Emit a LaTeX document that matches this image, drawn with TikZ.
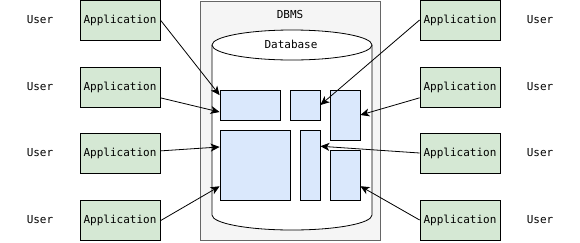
\documentclass[tikz,border=0pt]{standalone}
\usepackage{fontspec}
\setmonofont{DejaVu Sans Mono}
\usetikzlibrary{arrows.meta}
\begin{document}
\begin{tikzpicture}[x=1pt,y=-1pt,
  every node/.style={font=\ttfamily\fontsize{11pt}{13pt}\selectfont, inner sep=0pt},
  app/.style={draw=black, fill={rgb,255:red,213;green,232;blue,212}, line width=0.8pt, minimum width=80pt, minimum height=40pt},
  blk/.style={draw=black, fill={rgb,255:red,218;green,232;blue,252}, line width=0.8pt},
  usr/.style={text=black},
  conn/.style={draw=black, line width=0.8pt, -{Stealth[length=9pt,width=8pt,inset=2.5pt]}}]
\useasboundingbox (0,0) rectangle (580,242);
% DBMS container
\node[draw={rgb,255:red,102;green,102;blue,102}, fill={rgb,255:red,245;green,245;blue,245}, line width=0.8pt, minimum width=180pt, minimum height=239pt] (dbms) at (290,120.5) {};
\node (dbmslbl) at (290,14) {DBMS};
% cylinder
\draw[fill=white, line width=0.8pt] (212,45) -- (212,215) arc[start angle=180, end angle=360, x radius=80pt, y radius=15pt] -- (372,45);
\draw[fill=white, line width=0.8pt] (292,45) ellipse [x radius=80pt, y radius=15pt];
\node (dblbl) at (291,44) {Database};
% blocks
\node[blk, minimum width=60pt, minimum height=30pt] (b1) at (250,105) {};
\node[blk, minimum width=30pt, minimum height=30pt] (b2) at (305,105) {};
\node[blk, minimum width=30pt, minimum height=50pt] (b3) at (345,115) {};
\node[blk, minimum width=70pt, minimum height=70pt] (b4) at (255,165) {};
\node[blk, minimum width=20pt, minimum height=70pt] (b5) at (310,165) {};
\node[blk, minimum width=30pt, minimum height=50pt] (b6) at (345,175) {};
% left side
\node[usr] (uL1) at (40,20) {User};
\node[usr] (uL2) at (40,87) {User};
\node[usr] (uL3) at (40,153) {User};
\node[usr] (uL4) at (40,220) {User};
\node[app] (aL1) at (120,20) {Application};
\node[app] (aL2) at (120,87) {Application};
\node[app] (aL3) at (120,153) {Application};
\node[app] (aL4) at (120,220) {Application};
% right side
\node[usr] (uR1) at (540,20) {User};
\node[usr] (uR2) at (540,87) {User};
\node[usr] (uR3) at (540,153) {User};
\node[usr] (uR4) at (540,220) {User};
\node[app] (aR1) at (460,20) {Application};
\node[app] (aR2) at (460,87) {Application};
\node[app] (aR3) at (460,153) {Application};
\node[app] (aR4) at (460,220) {Application};
% connectors
\draw[conn] (aL1.east) -- (b1.162);
\draw[conn] (aL2.-15) -- (b1.193);
\draw[conn] (aL3.3) -- (b4.153);
\draw[conn] (aL4.-1) -- (b4.211);
\draw[conn] (aR1.west) -- (b2.east);
\draw[conn] (aR2.195) -- (b3.east);
\draw[conn] (aR3.west) -- (b5.61);
\draw[conn] (aR4.west) -- (b6.-36);
\end{tikzpicture}
\end{document}
